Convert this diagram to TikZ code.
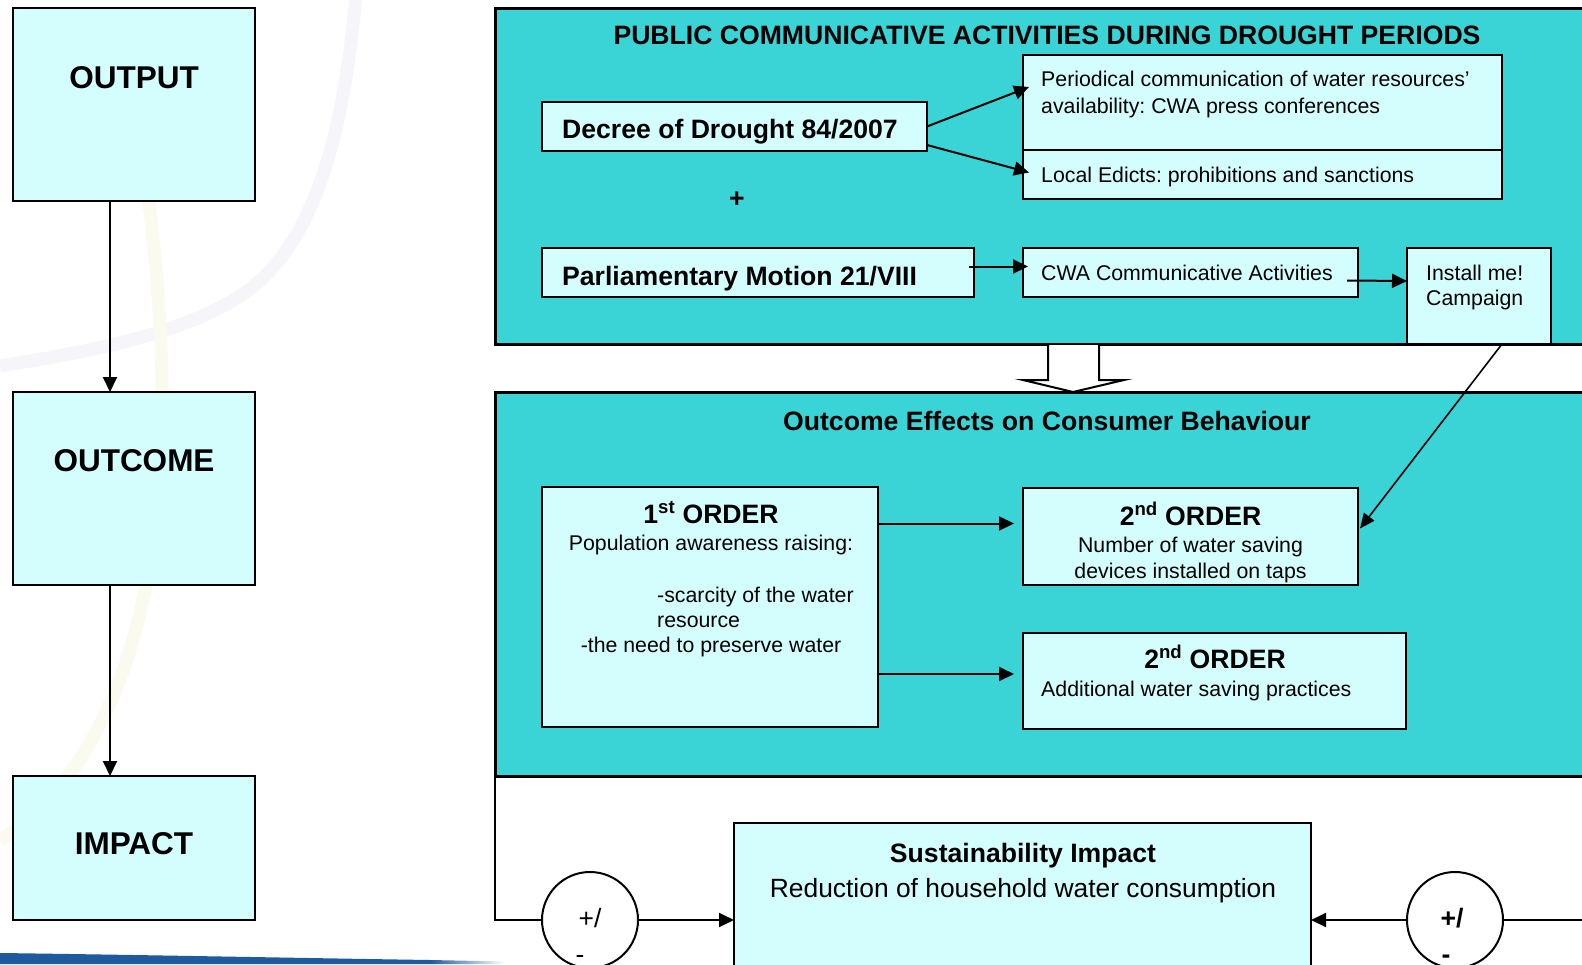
\documentclass[tikz,border=0pt]{standalone}
\usepackage{fontspec}
\setmainfont{Liberation Sans}
\frenchspacing
\usetikzlibrary{arrows.meta,calc}
\definecolor{tealc}{RGB}{58,211,214}
\definecolor{lcyan}{RGB}{212,253,254}
\definecolor{barblue}{RGB}{31,90,158}
\definecolor{arcgrey}{RGB}{246,246,250}
\definecolor{arcyel}{RGB}{250,250,238}
\begin{document}
\frenchspacing
\begin{tikzpicture}[x=1pt,y=-1pt,
  lbox/.style={draw=black, fill=lcyan, line width=2.5pt, inner sep=0pt, outer sep=0pt, anchor=north west},
  panel/.style={draw=black, fill=tealc, line width=3pt, inner sep=0pt, outer sep=0pt, anchor=north west},
  conn/.style={draw=black, line width=2pt, -{Triangle[length=15pt,width=14pt]}},
  thinconn/.style={draw=black, line width=1.6pt, -{Triangle[length=15pt,width=13pt]}},
  plain/.style={draw=black, line width=2pt},
  bigt/.style={font=\fontsize{31.5}{36}\selectfont\bfseries, inner sep=0pt},
  hd/.style={font=\fontsize{26.6}{30}\selectfont\bfseries, inner sep=0pt},
  rgl/.style={font=\fontsize{26.4}{30}\selectfont, inner sep=0pt},
  rg/.style={font=\fontsize{21.3}{26}\selectfont, inner sep=0pt},
  ring/.style={circle, draw=black, fill=white, line width=2pt, minimum size=96pt, inner sep=0pt}
]
\path[use as bounding box] (0,0) rectangle (1582,964);
\clip (0,0) rectangle (1582,964);
\fill[white] (0,0) rectangle (1582,964);

% faint background arcs
\draw[arcgrey, line width=13pt] (356,-5) .. controls (345,120) and (320,230) .. (255,285) .. controls (200,330) and (100,350) .. (0,366);
\draw[arcyel, line width=13pt] (148,195) .. controls (165,330) and (170,480) .. (145,590) .. controls (125,690) and (80,790) .. (0,840);

% bottom blue bar
\fill[barblue] (0,953) .. controls (150,955) and (300,958) .. (430,960) -- (430,964) -- (0,964) -- cycle;
\shade[left color=barblue, right color=white] (430,960) -- (505,961.5) -- (505,964) -- (430,964) -- cycle;

% left column
\node[lbox, minimum width=242pt, minimum height=193pt] (out) at (13,8) {};
\node[lbox, minimum width=242pt, minimum height=193pt] (outc) at (13,392) {};
\node[lbox, minimum width=242pt, minimum height=144pt] (imp) at (13,776) {};
\node[bigt, anchor=base] (outt) at (134,88) {OUTPUT};
\node[bigt, anchor=base] (outct) at (134,471) {OUTCOME};
\node[bigt, anchor=base] (impt) at (134,854) {IMPACT};
\coordinate (ax) at (110,0);
\draw[conn] (out.south -| ax) -- (outc.north -| ax);
\draw[conn] (outc.south -| ax) -- (imp.north -| ax);

% panel 1
\node[panel, minimum width=1110pt, minimum height=336pt] (p1) at (495,8) {};
\node[hd, anchor=base] (p1t) at (1047,44) {PUBLIC COMMUNICATIVE ACTIVITIES DURING DROUGHT PERIODS};
\node[lbox, minimum width=385pt, minimum height=49pt] (dec) at (542,102) {};
\node[hd, anchor=base west] (dect) at (562,138) {Decree of Drought 84/2007};
\node[lbox, minimum width=479pt, minimum height=95pt] (per) at (1023,55) {};
\node[rg, anchor=base west] (pert1) at (1041,86.5) {Periodical communication of water resources’};
\node[rg, anchor=base west] (pert2) at (1041,113) {availability: CWA press conferences};
\node[lbox, minimum width=479pt, minimum height=49pt] (loc) at (1023,150) {};
\node[rg, anchor=base west] (loct) at (1041,182) {Local Edicts: prohibitions and sanctions};
\node[hd] (plus) at (737,200) {+};
\node[lbox, minimum width=432pt, minimum height=49pt] (par) at (542,248) {};
\node[hd, anchor=base west] (part) at (562,285) {Parliamentary Motion 21/VIII};
\node[lbox, minimum width=335pt, minimum height=49pt] (cwa) at (1023,248) {};
\node[rg, anchor=base west] (cwat) at (1041,280) {CWA Communicative Activities};
\node[lbox, minimum width=144pt, minimum height=96pt] (ins) at (1407,248) {};
\node[rg, anchor=base west] (inst1) at (1426,280) {Install me!};
\node[rg, anchor=base west] (inst2) at (1426,305.5) {Campaign};

\draw[conn] (dec.east) -- ($(per.north west)+(6,32)$);
\draw[conn] ($(dec.south east)+(0,-6)$) -- ($(loc.west)+(6,-2)$);
\draw[conn] ($(par.east)+(-5,-6)$) -- ($(cwa.west)+(5,-6)$);
\draw[conn] ($(cwa.east)+(-11,8)$) -- ($(ins.north west)+(0,33)$);

% hollow arrow between panels
\draw[line width=2pt, fill=white] (1048,345) -- (1048,380) -- (1023,380) -- (1073,392) -- (1124,380) -- (1099,380) -- (1099,345);

% panel 2
\node[panel, minimum width=1110pt, minimum height=384pt] (p2) at (495,392) {};
\node[hd, anchor=base] (p2t) at (1047,430) {Outcome Effects on Consumer Behaviour};
\node[lbox, minimum width=336pt, minimum height=240pt] (fo) at (542,487) {};
\node[hd, anchor=base] (fot1) at (711,523) {1\textsuperscript{st} ORDER};
\node[rg, anchor=base] (fot2) at (711,550.5) {Population awareness raising:};
\node[rg, anchor=base west] (fot3) at (657,602.5) {-scarcity of the water};
\node[rg, anchor=base west] (fot4) at (657,627.5) {resource};
\node[rg, anchor=base] (fot5) at (711,652.5) {-the need to preserve water};
\node[lbox, minimum width=335pt, minimum height=97pt] (soa) at (1023,488) {};
\node[hd, anchor=base] (soat1) at (1190.5,525) {2\textsuperscript{nd} ORDER};
\node[rg, anchor=base] (soat2) at (1190.5,552.5) {Number of water saving};
\node[rg, anchor=base] (soat3) at (1190.5,578.5) {devices installed on taps};
\node[lbox, minimum width=383pt, minimum height=96pt] (sob) at (1023,633) {};
\node[hd, anchor=base] (sobt1) at (1215,668) {2\textsuperscript{nd} ORDER};
\node[rg, anchor=base west] (sobt2) at (1041,696.5) {Additional water saving practices};

\draw[conn] (fo.east |- soa.west) ++(0,-13) coordinate (fa) -- ($(soa.west)+(-9,-13)$);
\draw[conn] (fo.east |- sob.west) ++(0,-7) coordinate (fb) -- ($(sob.west)+(-9,-7)$);
\draw[thinconn] ($(ins.south west)+(95,0)$) -- ($(soa.east)+(2,-8)$);

% impact row
\node[lbox, minimum width=577pt, minimum height=220pt] (sus) at (734,823) {};
\node[hd, anchor=base] (sust1) at (1023,862) {Sustainability Impact};
\node[rgl, anchor=base] (sust2) at (1023,897) {Reduction of household water consumption};
\node[ring] (c1) at (590,920) {};
\node[ring] (c2) at (1455,920) {};
\node[rgl] (c1a) at (590,918) {+/};
\node[rgl] (c1b) at (580,959) {-};
\node[hd] (c2a) at (1452,918) {+/};
\node[hd] (c2b) at (1446,959) {-};
\coordinate (rend) at (1590,920);
\draw[plain] (p2.south west) |- (c1.west);
\draw[conn] (c1.east) -- (sus.west |- c1.east);
\draw[conn] (c2.west) -- (sus.east |- c2.west);
\draw[plain] (c2.east) -- (rend);
\end{tikzpicture}
\end{document}
